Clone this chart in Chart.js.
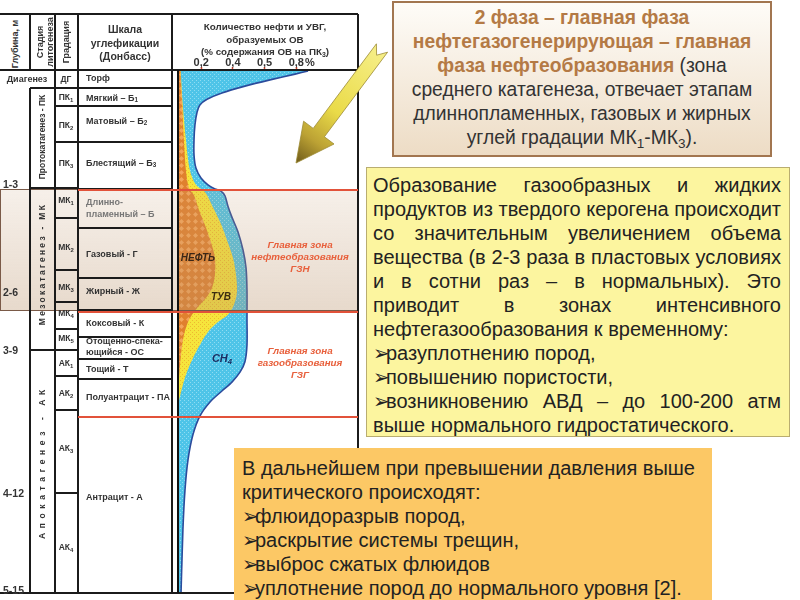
<!DOCTYPE html>
<html lang="ru">
<head>
<meta charset="utf-8">
<title>Главная фаза нефтеобразования</title>
<script src="https://cdn.jsdelivr.net/npm/chart.js@4.4.1/dist/chart.umd.min.js"></script>
<style>
  body { margin:0; width:800px; height:600px; overflow:hidden; position:relative; background:#fff;
         font-family:"Liberation Sans", Arial, sans-serif; color:#333; }
  .abs { position:absolute; }
  .lbl { position:absolute; white-space:nowrap; font-weight:bold; line-height:1; }
  sub { font-size:70%; vertical-align:-0.3em; line-height:0; }
  #chartBox { position:absolute; left:178px; top:50px; width:180px; height:543px; }
  .note { position:absolute; box-sizing:border-box; line-height:24px; }
  .note div { white-space:nowrap; height:24px; }
  .note .j { text-align:justify; text-align-last:justify; }
  .bul { font-size:20px; line-height:0; margin-right:-4px; }
</style>
</head>
<body>
<div id="chartBox"><canvas id="c"></canvas></div>
<script>
// --- data ---
// x: количество нефти и УВГ, % содержания ОВ на ПК3; depth: условная глубина разреза, 0..100 сверху вниз
const tickValues = [0.2, 0.4, 0.6, 0.8];
const tickLabels = ['0,2', '0,4', '0,5', '0,8'];

// общий контур (нефть + ТУВ + CH4)
const totalX = [0.874, 0.792, 0.634, 0.476, 0.331, 0.237, 0.192, 0.174, 0.161, 0.155, 0.155, 0.167,
  0.199, 0.243, 0.287, 0.325, 0.350, 0.369, 0.394, 0.432, 0.464, 0.483, 0.489, 0.489, 0.489,
  0.476, 0.445, 0.394, 0.331, 0.256, 0.192, 0.148, 0.117, 0.098, 0.085, 0.073];
const totalDepth = [0, 0.6, 1.7, 2.9, 4.2, 5.4, 6.5, 7.9, 10.3, 13.2, 16.1, 18.6,
  20.5, 21.8, 22.6, 23.0, 23.9, 25.9, 28.0, 30.8, 34.3, 37.7, 42.0, 47.7, 52.5,
  55.7, 57.7, 59.6, 61.3, 63.4, 66.1, 69.7, 74.5, 80.3, 87.9, 100];

// ТУВ (нефть + тяжелые УВ газы)
const tuvX = [0.071, 0.082, 0.104, 0.129, 0.167, 0.224, 0.268, 0.319, 0.363, 0.401, 0.420,
  0.426, 0.407, 0.369, 0.306, 0.243, 0.192, 0.142, 0.104, 0.073, 0.054];
const tuvDepth = [0, 5.6, 13.2, 19.0, 21.8, 23.2, 25.7, 28.9, 32.4, 35.8, 39.1,
  42.3, 44.8, 46.7, 48.1, 50.0, 52.5, 55.4, 58.2, 61.5, 64.0];

// нефть
const oilX = [0.069, 0.079, 0.091, 0.104, 0.123, 0.155, 0.186, 0.224, 0.262, 0.287, 0.287,
  0.268, 0.230, 0.174, 0.123, 0.091, 0.073, 0.060, 0.054];
const oilDepth = [0, 5.6, 13.2, 19.0, 22.4, 23.8, 26.6, 29.5, 32.8, 35.8, 39.1,
  41.6, 43.5, 45.4, 47.7, 50.6, 54.4, 59.2, 64.0];

const X_MIN = 0.054, X_MAX = 1.189;

Chart.defaults.font.family = '"Liberation Sans", Arial, sans-serif';

function pattern(bg, fg, size, kind) {
  const c = document.createElement('canvas');
  c.width = c.height = size;
  const g = c.getContext('2d');
  g.fillStyle = bg;
  g.fillRect(0, 0, size, size);
  g.fillStyle = fg;
  if (kind === 'diamond') {
    const h = size / 2;
    g.beginPath();
    g.moveTo(h, 1); g.lineTo(size - 1, h); g.lineTo(h, size - 1); g.lineTo(1, h);
    g.closePath();
    g.fill();
  } else {
    g.fillRect(0, 0, 1, 1);
    g.fillRect(size / 2, size / 2, 1, 1);
  }
  return g.createPattern(c, 'repeat');
}

const bluePat = pattern('#4ec4e8', '#8edcf2', 4, 'dot');
const yellowPat = pattern('#f6e53c', '#eeb830', 4, 'dot');
const orangePat = pattern('#e0802e', '#f3a45a', 7, 'diamond');

const toPts = (xs, ys) => xs.map((x, i) => ({x: x, y: ys[i]}));
const toBase = pts => pts.concat([{x: X_MIN, y: pts[pts.length - 1].y}, {x: X_MIN, y: 0}]);

function area(xs, ys, fillStyle) {
  return {
    data: toBase(toPts(xs, ys)),
    showLine: true, fill: 'shape', backgroundColor: fillStyle,
    borderColor: 'transparent', borderWidth: 0, pointRadius: 0, tension: 0.3
  };
}

new Chart(document.getElementById('c'), {
  type: 'scatter',
  data: {
    datasets: [
      {data: toPts(totalX, totalDepth), showLine: true, fill: false, borderColor: '#2b4b9c',
       borderWidth: 1.6, pointRadius: 0, tension: 0.3},
      area(oilX, oilDepth, orangePat),
      area(tuvX, tuvDepth, yellowPat),
      area(totalX, totalDepth, bluePat)
    ]
  },
  options: {
    animation: false,
    responsive: true,
    maintainAspectRatio: false,
    events: [],
    layout: {padding: 0},
    plugins: {legend: {display: false}, tooltip: {enabled: false}},
    scales: {
      x: {
        type: 'linear', position: 'top', min: X_MIN, max: X_MAX,
        afterBuildTicks: s => { s.ticks = tickValues.map(v => ({value: v})); },
        afterFit: s => { s.height = 21; },
        ticks: {callback: (v, i) => tickLabels[i], font: {size: 11, weight: 'bold'}, color: '#333', padding: -3},
        grid: {drawOnChartArea: false, tickLength: 4, tickColor: '#d8452e', tickWidth: 1.5},
        border: {display: false}
      },
      y: {type: 'linear', min: 0, max: 100, reverse: true, display: false}
    }
  }
});

// --- table, zones and notes ---
const page = document.body;

function box(x, y, w, h, css) {
  const d = document.createElement('div');
  d.className = 'abs';
  d.style.cssText = `left:${x}px;top:${y}px;width:${w}px;height:${h}px;` + (css || '');
  page.appendChild(d);
  return d;
}
const hl = (x1, x2, y, c = '#1b1b1b', t = 1.5) => box(x1, y - t / 2, x2 - x1, t, 'background:' + c);
const vl = (x, y1, y2, c = '#1b1b1b', t = 1.5) => box(x - t / 2, y1, t, y2 - y1, 'background:' + c);

function put(html, x, y, css, mode) {
  const d = document.createElement('div');
  d.className = 'lbl';
  d.innerHTML = html;
  d.style.cssText = `left:${x}px;top:${y}px;` + (css || '');
  d.style.transform = mode === 'l' ? 'translate(0,-50%)'
    : mode === 'r' ? 'translate(-50%,-50%) rotate(-90deg)' : 'translate(-50%,-50%)';
  page.appendChild(d);
  return d;
}

// beige band of the main phase
box(0, 189, 359, 122, 'box-sizing:border-box;border:1px solid #7a5a48;' +
  'background:linear-gradient(rgba(200,160,120,0.16), rgba(185,145,105,0.34));');

// grid of the table
hl(0, 358, 14); hl(0, 358, 70); hl(0, 234, 593);
vl(30, 14, 70); vl(30, 88, 593); vl(55, 14, 593); vl(78, 14, 593);
vl(172, 14, 593); vl(178, 70, 593, '#111', 2.5); vl(358, 14, 593);
[88, 188, 350].forEach(y => hl(30, 55, y));
[88, 106, 142, 188, 218, 270, 302, 329, 350, 376, 410, 493].forEach(y => hl(55, 78, y));
[88, 106, 142, 189, 228, 278, 310, 337, 359, 379].forEach(y => hl(78, 172, y));

// zone boundaries
[190, 312, 417].forEach(y => hl(78, 358, y, '#e2523a', 2));

// headers
const hdr = 'font-size:9px;color:#333;';
put('Глубина, м', 15, 44, hdr, 'r');
put('Стадия<br>литогенеза', 45, 42, hdr + 'line-height:10px;text-align:center;', 'r');
put('Градация', 66, 42, hdr, 'r');
put('Шкала<br>углефикации<br>(Донбасс)', 125, 43, 'font-size:10.5px;line-height:13.5px;text-align:center;color:#333;');
put('Количество нефти и УВГ,<br>образуемых ОВ<br>(% содержания ОВ на ПК<sub>3</sub>)', 265, 40,
  'font-size:9.8px;line-height:12.5px;text-align:center;color:#333;');
put('%', 310, 62, 'font-size:11px;color:#333;');

// stages
put('Диагенез', 27, 79, 'font-size:9px;');
put('Протокатагенез - ПК', 42, 137, 'font-size:8.5px;', 'r');
put('Мезокатагенез - МК', 42, 264, 'font-size:8.5px;letter-spacing:2.3px;', 'r');
put('Апокатагенез - АК', 42, 462, 'font-size:8.5px;letter-spacing:4.6px;', 'r');

// depths
[['1-3', 184], ['2-6', 292], ['3-9', 350], ['4-12', 493], ['5-15', 590]]
  .forEach(([t, y]) => put(t, 3, y, 'font-size:10.5px;color:#333;', 'l'));

// gradations
[['ДГ', 79], ['ПК<sub>1</sub>', 97], ['ПК<sub>2</sub>', 125], ['ПК<sub>3</sub>', 163],
 ['МК<sub>1</sub>', 200], ['МК<sub>2</sub>', 247], ['МК<sub>3</sub>', 287], ['МК<sub>4</sub>', 313],
 ['МК<sub>5</sub>', 338], ['АК<sub>1</sub>', 363], ['АК<sub>2</sub>', 393], ['АК<sub>3</sub>', 448],
 ['АК<sub>4</sub>', 547]]
  .forEach(([t, y]) => put(t, 66, y, 'font-size:8.5px;color:#333;'));

// coal scale
[['Торф', 78], ['Мягкий – Б<sub>1</sub>', 98], ['Матовый – Б<sub>2</sub>', 121], ['Блестящий – Б<sub>3</sub>', 163],
 ['Длинно-', 202, '#777'], ['пламенный – Б', 214, '#777'], ['Газовый - Г', 254], ['Жирный - Ж', 291],
 ['Коксовый - К', 323], ['Отощенно-спека-', 341], ['ющийся - ОС', 352], ['Тощий - Т', 369],
 ['Полуантрацит - ПА', 397], ['Антрацит - А', 497]]
  .forEach(([t, y, c]) => put(t, 86, y, 'font-size:9px;color:' + (c || '#333') + ';', 'l'));

// names inside the chart
const zone = 'font-size:9.8px;font-style:italic;color:#e8603c;line-height:12px;text-align:center;';
put('Главная зона<br>нефтеобразования<br>ГЗН', 300, 257, zone);
put('Главная зона<br>газообразования<br>ГЗГ', 300, 363, zone);
put('НЕФТЬ', 198, 258, 'font-size:10px;font-style:italic;color:#3a2616;');
put('ТУВ', 221, 297, 'font-size:10px;font-style:italic;color:#3a2c10;');
put('CH<sub>4</sub>', 222, 358, 'font-size:11px;font-style:italic;color:#1b2e62;');

// notes
const n1 = box(392, 1, 380, 156, 'box-sizing:border-box;border:2px solid #a27650;' +
  'background:linear-gradient(#fefcf8,#eddcc5);font-size:19.3px;text-align:center;padding-top:3px;');
n1.className = 'note';
n1.innerHTML = '<div style="color:#b47a45;font-weight:bold">2 фаза – главная фаза</div>' +
  '<div style="color:#b47a45;font-weight:bold">нефтегазогенерирующая – главная</div>' +
  '<div><b style="color:#b47a45">фаза нефтеобразования</b> (зона</div>' +
  '<div>среднего катагенеза, отвечает этапам</div>' +
  '<div>длиннопламенных, газовых и жирных</div>' +
  '<div>углей градации МК<sub>1</sub>-МК<sub>3</sub>).</div>';

const bul = '<span class="bul">➢</span>';
const n2 = box(366, 167, 424, 270, 'box-sizing:border-box;border:1px solid #b9ad70;background:#fcf59f;' +
  'font-size:20px;padding:5px 8px 0 6px;color:#222;');
n2.className = 'note';
n2.innerHTML = '<div class="j">Образование газообразных и жидких</div>' +
  '<div class="j">продуктов из твердого керогена происходит</div>' +
  '<div class="j">со значительным увеличением объема</div>' +
  '<div class="j">вещества (в 2-3 раза в пластовых условиях</div>' +
  '<div class="j">и в сотни раз – в нормальных). Это</div>' +
  '<div class="j">приводит в зонах интенсивного</div>' +
  '<div>нефтегазообразования к временному:</div>' +
  '<div>' + bul + 'разуплотнению пород,</div>' +
  '<div>' + bul + 'повышению пористости,</div>' +
  '<div class="j">' + bul + 'возникновению АВД – до 100-200 атм</div>' +
  '<div>выше нормального гидростатического.</div>';

const n3 = box(234, 448, 478, 152, 'box-sizing:border-box;background:#fcc865;' +
  'font-size:20px;padding:8px 0 0 8px;color:#222;');
n3.className = 'note';
n3.innerHTML = '<div>В дальнейшем при превышении давления выше</div>' +
  '<div>критического происходят:</div>' +
  '<div>' + bul + 'флюидоразрыв пород,</div>' +
  '<div>' + bul + 'раскрытие системы трещин,</div>' +
  '<div>' + bul + 'выброс сжатых флюидов</div>' +
  '<div>' + bul + 'уплотнение пород до нормального уровня [2].</div>';

// pointer arrow
const svgNS = 'http://www.w3.org/2000/svg';
const svg = document.createElementNS(svgNS, 'svg');
svg.setAttribute('width', 800);
svg.setAttribute('height', 600);
svg.style.cssText = 'position:absolute;left:0;top:0;pointer-events:none;';
svg.innerHTML = '<defs><linearGradient id="ag" gradientUnits="userSpaceOnUse" x1="382" y1="48" x2="296" y2="163">' +
  '<stop offset="0" stop-color="#f6ef8a"/><stop offset="0.55" stop-color="#eadb48"/>' +
  '<stop offset="0.8" stop-color="#bca234"/><stop offset="1" stop-color="#6e5a1a"/></linearGradient></defs>' +
  '<polygon points="296,163 334,144 324.4,136.8 387.6,52.2 376.6,55.2 376.4,43.8 313.2,128.4 303.6,121.2" ' +
  'fill="url(#ag)" stroke="#9c8a34" stroke-width="0.8"/>';
page.appendChild(svg);
</script>
</body>
</html>
